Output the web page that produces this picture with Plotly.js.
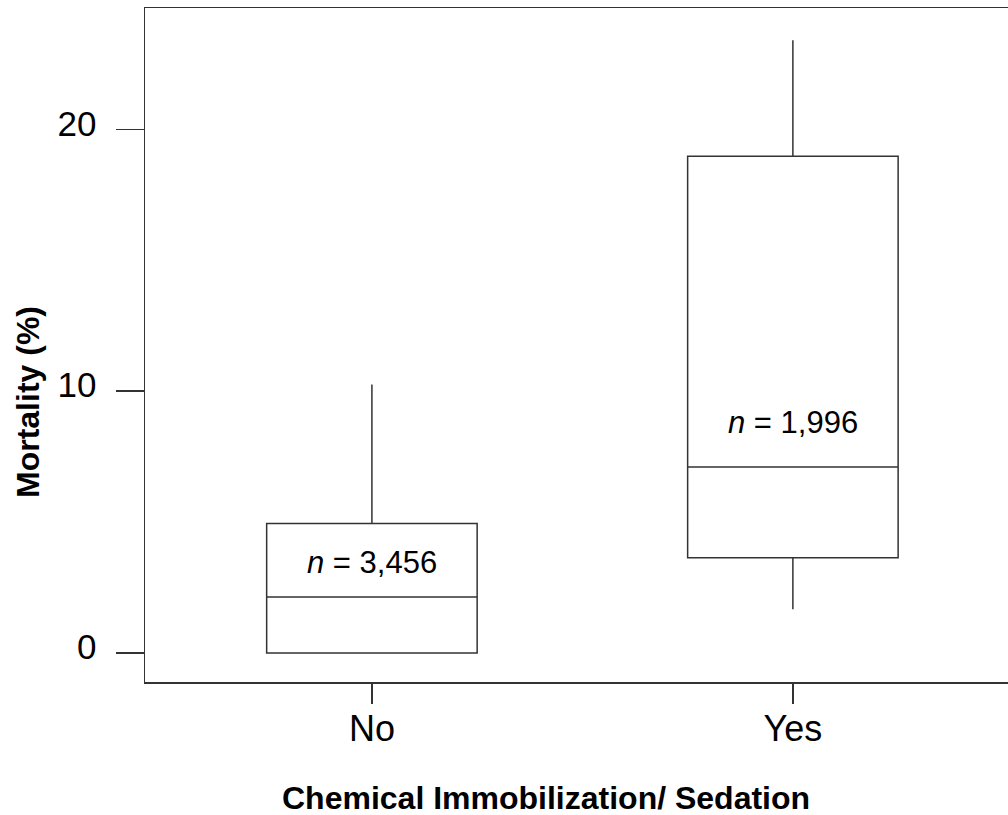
<!DOCTYPE html>
<html>
<head>
<meta charset="utf-8">
<script src="https://cdn.plot.ly/plotly-3.0.1.min.js"></script>
<style>
  html, body { margin: 0; padding: 0; background: #fff; overflow: hidden; }
  #chart { width: 1008px; height: 815px; }
</style>
</head>
<body>
<div id="chart"></div>
<script>
// Data
const categories = ['No', 'Yes'];
const lowerWhisker = [0, 1.67];
const q1Values = [0, 3.64];
const medianValues = [2.14, 7.1];
const q3Values = [4.95, 18.98];
const upperWhisker = [10.26, 23.41];
const sampleLabels = ['<i>n</i> = 3,456', '<i>n</i> = 1,996'];
const labelY = [3.46, 8.82];
const yTickValues = [0, 10, 20];
const xAxisTitle = 'Chemical Immobilization/ Sedation';
const yAxisTitle = 'Mortality (%)';

const lineColor = '#333333';
const fontFamily = 'Arial, "Liberation Sans", Helvetica, sans-serif';

const trace = {
  type: 'box',
  x: categories,
  q1: q1Values,
  median: medianValues,
  q3: q3Values,
  lowerfence: lowerWhisker,
  upperfence: upperWhisker,
  width: 0.5,
  whiskerwidth: 0,
  fillcolor: '#ffffff',
  line: { color: lineColor, width: 1.5 },
  boxpoints: false,
  hoverinfo: 'skip',
  showlegend: false
};

const annotations = categories.map((c, i) => ({
  x: c, y: labelY[i], xref: 'x', yref: 'y',
  text: sampleLabels[i], showarrow: false,
  font: { family: fontFamily, size: 31, color: '#000' },
  xanchor: 'center', yanchor: 'middle'
}));

annotations.push({
  xref: 'paper', yref: 'paper', x: (546 - 145) / (1008 - 145), y: -(798 - 682) / (682 - 8),
  text: '<b>' + xAxisTitle + '</b>', showarrow: false,
  font: { family: fontFamily, size: 32, color: '#000' },
  xanchor: 'center', yanchor: 'middle'
});
annotations.push({
  xref: 'paper', yref: 'paper', x: -(145 - 28) / (1008 - 145), y: (682 - 402) / (682 - 8),
  text: '<b>' + yAxisTitle + '</b>', showarrow: false, textangle: -90,
  font: { family: fontFamily, size: 32, color: '#000' },
  xanchor: 'center', yanchor: 'middle'
});

const layout = {
  width: 1008, height: 815,
  margin: { l: 145, r: 0, t: 8, b: 133 },
  paper_bgcolor: '#fff', plot_bgcolor: '#fff',
  showlegend: false,
  font: { family: fontFamily, color: '#000' },
  xaxis: {
    type: 'category',
    range: [-0.539, 1.511],
    showgrid: false, zeroline: false,
    showline: true, linecolor: lineColor, linewidth: 1.5, mirror: true,
    ticks: 'outside', ticklen: 20, tickwidth: 1.5, tickcolor: lineColor,
    ticklabelstandoff: -6,
    tickfont: { family: fontFamily, size: 36, color: '#000' }
  },
  yaxis: {
    range: [-1.11, 24.64],
    tickvals: yTickValues,
    ticktext: yTickValues.map(String),
    showgrid: false, zeroline: false,
    showline: true, linecolor: lineColor, linewidth: 1.5,
    ticks: 'outside', ticklen: 28, tickwidth: 1.5, tickcolor: lineColor,
    ticklabelstandoff: 12,
    ticklabelshift: -6,
    tickfont: { family: fontFamily, size: 35, color: '#000' }
  },
  annotations: annotations
};

Plotly.newPlot('chart', [trace], layout, { displayModeBar: false, staticPlot: true });
</script>
</body>
</html>
